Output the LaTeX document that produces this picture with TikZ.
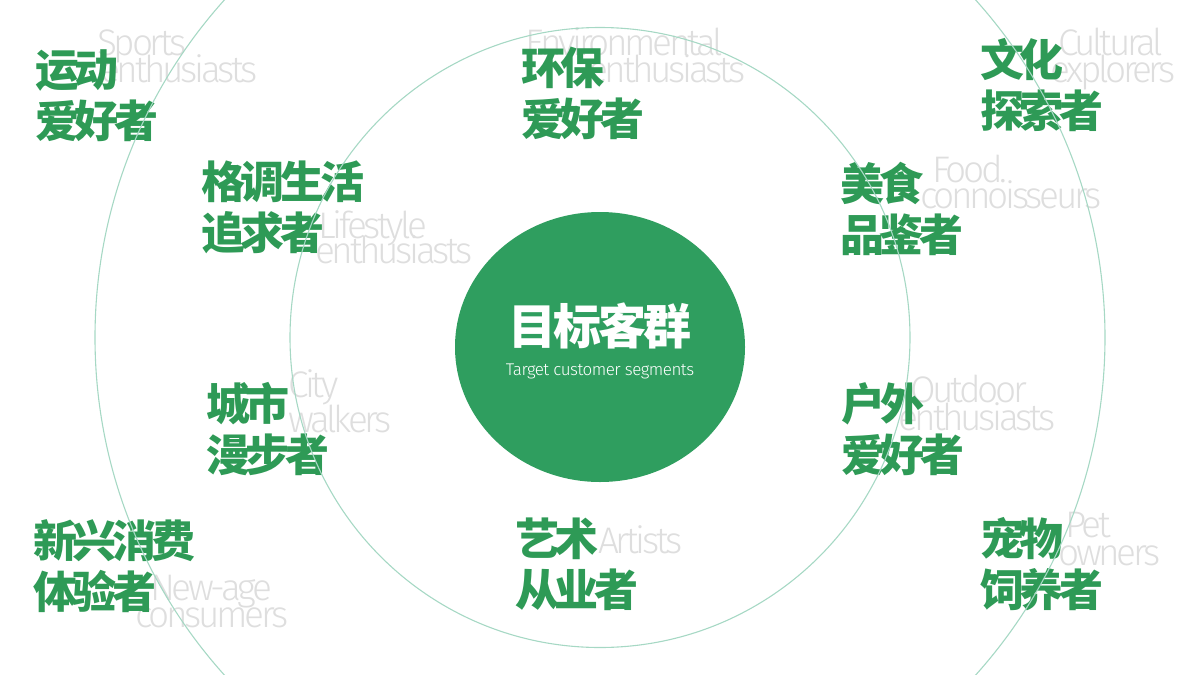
\documentclass[tikz,border=0pt]{standalone}
\usepackage{fontspec}
\usetikzlibrary{shapes.geometric}
\newfontfamily\cnfont{Noto Sans CJK SC}[LetterSpace=-10]
\newfontfamily\hubfont{Noto Sans CJK SC}[LetterSpace=-6]
\newfontfamily\enfont{Fira Sans Light}[LetterSpace=-9]
\newfontfamily\subfont{Fira Sans Light}[LetterSpace=-3]
\definecolor{segreen}{HTML}{2E9A56}
\definecolor{hubgreen}{HTML}{2F9E5F}
\definecolor{ringgreen}{HTML}{A6D8C4}
\definecolor{engray}{HTML}{DEDEDE}
\tikzset{
	cnlabel/.style = {anchor=base west, align=left, inner sep=0pt, text=segreen, font=\cnfont\bfseries\fontsize{44}{51}\selectfont},
	enlabel/.style = {anchor=base west, inner sep=0pt, text=engray, font=\enfont\fontsize{37}{37}\selectfont},
	ring/.style = {draw=ringgreen, line width=1.1pt},
	hub/.style = {ellipse, fill=hubgreen, minimum width=290pt, minimum height=270pt, inner sep=0pt}
}

\begin{document}
\begin{tikzpicture}[x=1pt, y=-1pt]
		\useasboundingbox (0,0) rectangle (1200,675);
		\coordinate (core) at (600,337.5);
		\node [hub] (hub) at (600,347) {};
		\node [anchor=base, inner sep=0pt, text=white, font=\hubfont\bfseries\fontsize{48}{48}\selectfont] (title) at (600,344) {目标客群};
		\node [anchor=base, inner sep=0pt, text=white, font=\subfont\fontsize{17}{17}\selectfont] (subtitle) at (600,375) {Target customer segments};
		% english names behind
		\node [enlabel] (sports1) at (97,55) {Sports};
		\node [enlabel] (sports2) at (100,82) {enthusiasts};
		\node [enlabel] (env1) at (525,55) {Environmental};
		\node [enlabel] (env2) at (588,82) {enthusiasts};
		\node [enlabel] (culture1) at (1058,55) {Cultural};
		\node [enlabel] (culture2) at (1050,82) {explorers};
		\node [enlabel] (life1) at (318,238) {Lifestyle};
		\node [enlabel] (life2) at (315,263) {enthusiasts};
		\node [enlabel] (food1) at (932,182) {Food.};
		\node [enlabel] (food2) at (920,208) {connoisseurs};
		\node [enlabel] (city1) at (288,397) {City};
		\node [enlabel] (city2) at (288,432) {walkers};
		\node [enlabel] (outdoor1) at (910,402) {Outdoor};
		\node [enlabel] (outdoor2) at (898,430) {enthusiasts};
		\node [enlabel] (newage1) at (150,600) {New-age};
		\node [enlabel] (newage2) at (135,627) {consumers};
		\node [enlabel] (artist1) at (598,553) {Artists};
		\node [enlabel] (pet1) at (1065,537) {Pet};
		\node [enlabel] (pet2) at (1058,565) {owners};
		% chinese names
		\node [cnlabel] (sports) at (35,137) {运动\\爱好者};
		\node [cnlabel] (env) at (521,135) {环保\\爱好者};
		\node [cnlabel] (culture) at (980,127) {文化\\探索者};
		\node [cnlabel] (life) at (201,249) {格调生活\\追求者};
		\node [cnlabel] (food) at (840,251) {美食\\品鉴者};
		\node [cnlabel] (city) at (206,471) {城市\\漫步者};
		\node [cnlabel] (outdoor) at (841,471) {户外\\爱好者};
		\node [cnlabel] (newage) at (33,608) {新兴消费\\体验者};
		\node [cnlabel] (artist) at (515,606) {艺术\\从业者};
		\node [cnlabel] (pet) at (980,606) {宠物\\饲养者};
		\begin{scope}
			\clip (0,0) rectangle (1200,675);
			\draw [ring] (core) circle [radius=310pt];
			\draw [ring] (core) circle [radius=505pt];
		\end{scope}
\end{tikzpicture}
\end{document}
